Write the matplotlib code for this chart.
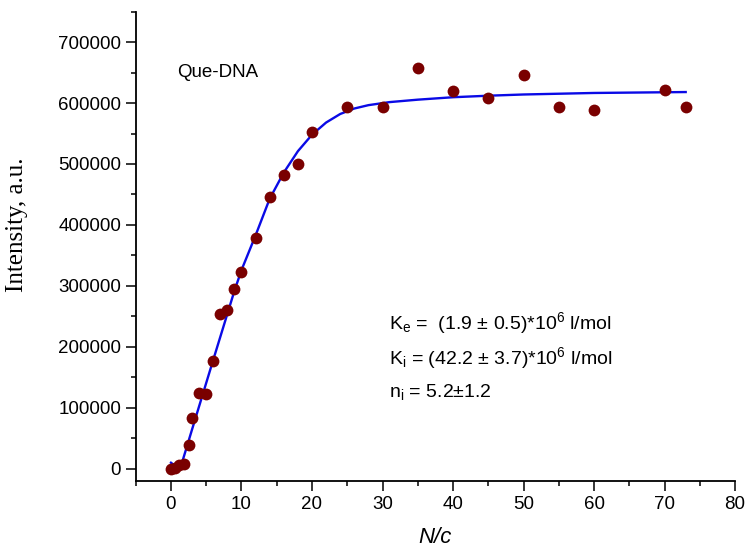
# Titration curve Que-DNA: intensity vs N/c with fitted curve
import matplotlib
matplotlib.use('Agg')
import matplotlib.pyplot as plt
from matplotlib.ticker import MultipleLocator

plt.rcParams['font.family'] = ['Liberation Sans', 'DejaVu Sans']
plt.rcParams['mathtext.default'] = 'regular'

# measured points
n_c = [0, 0.6, 1.2, 1.8, 2.5, 3, 4, 5, 6, 7, 8, 9, 10, 12, 14, 16, 18, 20,
       25, 30, 35, 40, 45, 50, 55, 60, 70, 73]
intensity = [0, 1000, 6000, 8000, 39000, 83000, 125000, 122000, 177000,
             254000, 260000, 295000, 323000, 378000, 446000, 482000, 500000,
             552000, 594000, 593000, 658000, 620000, 609000, 646000, 594000,
             589000, 622000, 593000]

# fitted curve
fit_x = [0, 0.7, 1.3, 3, 6, 9, 10, 12, 14, 16, 18, 20, 22, 24, 26, 28, 31,
         35, 40, 45, 50, 60, 73]
fit_y = [10000, 4000, 0, 65000, 179000, 292000, 326000, 383000, 443000,
         486000, 521000, 548000, 568000, 582000, 591000, 596500, 601500,
         605500, 609500, 612000, 614000, 616500, 618000]

x_ticks = [0, 10, 20, 30, 40, 50, 60, 70, 80]
y_ticks = [0, 100000, 200000, 300000, 400000, 500000, 600000, 700000]

fig = plt.figure(figsize=(7.47, 5.51), dpi=100)
ax = fig.add_axes([0.1817, 0.127, 0.8023, 0.852])

ax.plot(fit_x, fit_y, color='#0a0ae6', lw=1.7, zorder=2)
ax.plot(n_c, intensity, 'o', color='#7a0000', ms=8.5, mec='none', zorder=3)

ax.set_xlim(-5, 80)
ax.set_ylim(-20000, 750000)
ax.set_xticks(x_ticks)
ax.set_yticks(y_ticks)
ax.xaxis.set_minor_locator(MultipleLocator(5))
ax.yaxis.set_minor_locator(MultipleLocator(50000))
ax.tick_params(which='major', length=7, width=1.1, direction='out', labelsize=13.5)
ax.tick_params(which='minor', length=3.5, width=1.1, direction='out')

for s in ['top', 'right']:
    ax.spines[s].set_visible(False)
for s in ['left', 'bottom']:
    ax.spines[s].set_linewidth(1.3)

ax.set_xlabel('N/c', fontsize=16, style='italic', va='center')
ax.xaxis.set_label_coords(0.5, -0.12)
ax.set_ylabel('Intensity, a.u.', fontsize=18, family=['Liberation Serif'])
ax.yaxis.set_label_coords(-0.18, 0.545)

ax.text(0.069, 0.871, 'Que-DNA', transform=ax.transAxes, fontsize=13.5,
        ha='left', va='center')

ax.text(0.4227, 0.3365, 'K$_{e}$ =  (1.9 ± 0.5)*10$^{6}$ l/mol',
        transform=ax.transAxes, fontsize=14, ha='left', va='center')
ax.text(0.4227, 0.2619, 'K$_{i}$ = (42.2 ± 3.7)*10$^{6}$ l/mol',
        transform=ax.transAxes, fontsize=14, ha='left', va='center')
ax.text(0.4227, 0.1895, 'n$_{i}$ = 5.2±1.2',
        transform=ax.transAxes, fontsize=14, ha='left', va='center')

plt.savefig('out.png', dpi=100)
